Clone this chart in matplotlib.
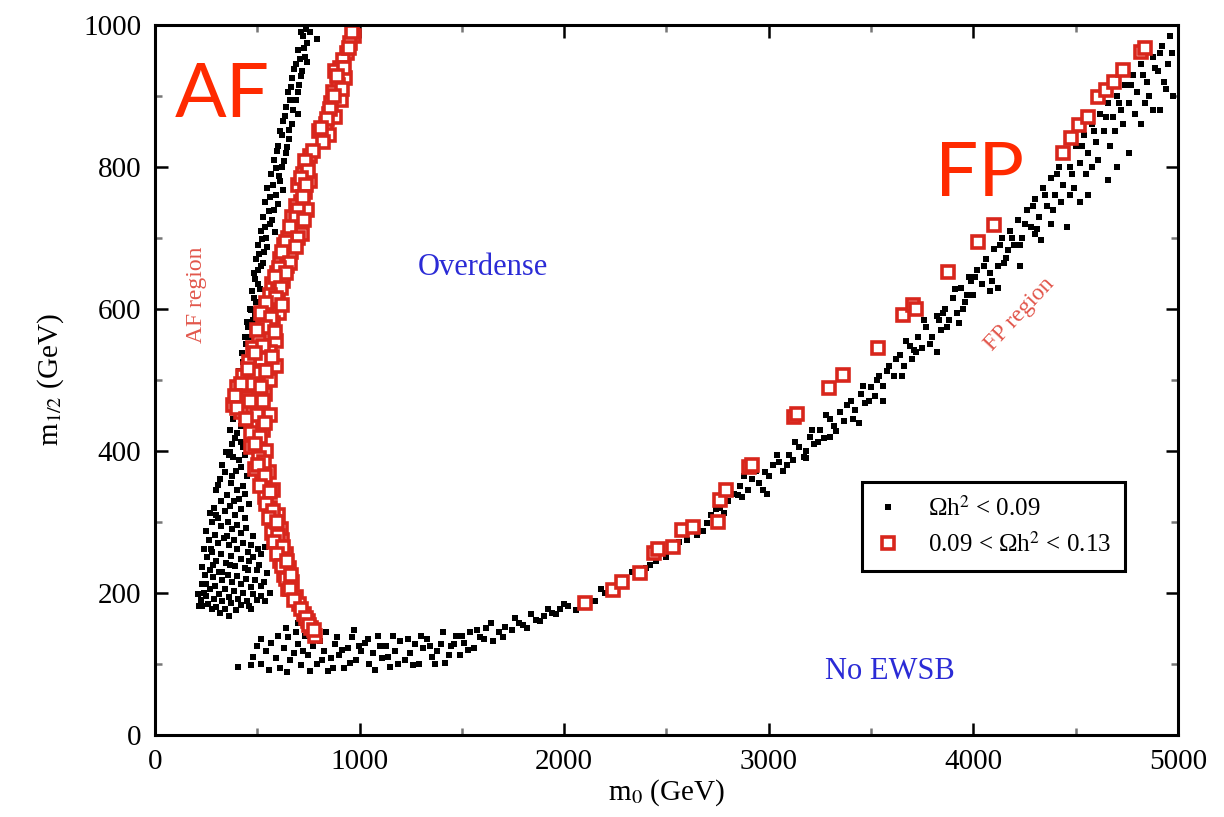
import matplotlib.pyplot as plt
from matplotlib.ticker import MultipleLocator

plt.rcParams["mathtext.fontset"] = "stix"

# scanned points as (m0, m1/2) in GeV
af_black = [
    (740, 995), (725, 985), (745, 975), (700, 965), (735, 955), (690, 945), (720, 935),
    (670, 925), (705, 915), (650, 905), (690, 895), (640, 885), (700, 875), (625, 865),
    (670, 860), (610, 850), (655, 840), (600, 830), (640, 820), (580, 810), (620, 800),
    (565, 790), (610, 780), (550, 770), (590, 760), (540, 750), (580, 740), (530, 730),
    (560, 720), (520, 710), (545, 700), (505, 690), (535, 680), (495, 670), (520, 660),
    (485, 650), (505, 635), (475, 625), (495, 610), (465, 600), (480, 585), (455, 575),
    (470, 560), (445, 550), (460, 535), (430, 525), (450, 510), (415, 500), (440, 490),
    (400, 480), (425, 470), (395, 460), (445, 452), (380, 445), (420, 435), (400, 425),
    (450, 418), (375, 410), (430, 405), (760, 990), (790, 980),
    (715, 990), (730, 968), (708, 952), (745, 948), (680, 938), (712, 928), (665, 912),
    (698, 905), (660, 895), (675, 880), (635, 872), (655, 852), (620, 845), (645, 828),
    (598, 822), (630, 808), (590, 798), (605, 788), (575, 775), (625, 768), (560, 758),
    (600, 748), (555, 738), (570, 725), (540, 715), (585, 708), (525, 698), (550, 688),
    (510, 678), (530, 665), (505, 655), (490, 642), (515, 628), (485, 615), (470, 598),
    (490, 590), (450, 582), (478, 568), (440, 560), (465, 545), (425, 538), (455, 522),
    (410, 512), (435, 498), (390, 492), (415, 478), (380, 470), (405, 458), (430, 440),
    (365, 430), (390, 418), (420, 412), (365, 398), (440, 395),
]

af_low_black = [
    (360, 395), (410, 388), (330, 380), (395, 372), (450, 365), (320, 360), (370, 355),
    (430, 350), (300, 345), (350, 338), (410, 332), (460, 325), (290, 320), (340, 315),
    (390, 310), (440, 305), (280, 300), (325, 295), (375, 290), (420, 285), (480, 280),
    (265, 275), (310, 270), (360, 268), (400, 262), (455, 258), (520, 255), (255, 250),
    (300, 245), (345, 242), (390, 238), (440, 235), (500, 232), (550, 228), (245, 225),
    (285, 222), (330, 218), (375, 215), (420, 212), (470, 208), (240, 200), (270, 205),
    (315, 198), (360, 195), (405, 192), (450, 188), (225, 190), (260, 185), (300, 180),
    (340, 178), (395, 176), (470, 178), (500, 190), (230, 212), (285, 240), (520, 210),
    (480, 250), (350, 280), (300, 310), (560, 200), (215, 182), (540, 265), (330, 230),
    (275, 262), (385, 330),
    (345, 398), (380, 392), (420, 378), (340, 370), (375, 365), (310, 352), (400, 345),
    (440, 340), (325, 330), (365, 322), (420, 318), (270, 312), (310, 305), (355, 300),
    (400, 296), (445, 292), (250, 288), (295, 282), (335, 278), (385, 275), (430, 270),
    (470, 268), (240, 262), (280, 258), (325, 255), (370, 252), (420, 248), (460, 245),
    (510, 240), (230, 236), (270, 232), (315, 230), (355, 226), (400, 224), (445, 220),
    (490, 218), (535, 215), (250, 212), (295, 210), (340, 206), (385, 203), (430, 200),
    (480, 198), (520, 196), (210, 198), (250, 196), (290, 192), (330, 188), (370, 186),
    (420, 183), (460, 182), (540, 188), (280, 178), (320, 172), (360, 168), (230, 182),
    (455, 232), (505, 262), (365, 240),
]

bottom_black = [
    (405, 96), (480, 110), (500, 125), (520, 100), (545, 118), (565, 130), (590, 108),
    (610, 95), (630, 122), (650, 138), (660, 105), (680, 115), (700, 128), (715, 98),
    (735, 140), (750, 112), (770, 125), (790, 100), (805, 132), (825, 118), (845, 90),
    (860, 108), (880, 128), (900, 112), (925, 95), (945, 122), (965, 138), (985, 105),
    (1005, 118), (1025, 130), (1045, 100), (1065, 115), (1090, 140), (1110, 108),
    (1130, 125), (1150, 96), (1175, 118), (1200, 132), (1220, 105), (1245, 115),
    (1270, 128), (1290, 100), (1310, 122), (1330, 135), (1355, 110), (1380, 118),
    (1400, 128), (1420, 102), (1445, 125), (1470, 140), (1490, 112), (1510, 130),
    (1540, 145), (1560, 122), (1590, 138), (1620, 150), (1650, 132), (1680, 145),
    (1710, 152), (1745, 148), (1780, 158), (1820, 150), (1860, 162), (1900, 168),
    (1940, 172), (1980, 178), (2020, 182), (2060, 176), (640, 150), (700, 158),
    (470, 98), (520, 135), (555, 92), (600, 140), (645, 88), (690, 145), (725, 118),
    (760, 90), (780, 135), (815, 105), (835, 145), (870, 95), (890, 138), (915, 120),
    (955, 102), (975, 148), (995, 125), (1040, 135), (1075, 92), (1100, 125), (1140, 110),
    (1165, 140), (1190, 100), (1235, 135), (1260, 98), (1300, 140), (1345, 125),
    (1370, 100), (1410, 145), (1435, 112), (1460, 128), (1500, 140), (1530, 120),
    (1575, 148), (1610, 135), (1640, 158), (1700, 138), (1760, 165), (1800, 155),
    (1840, 170), (1880, 160), (1920, 178), (1960, 170), (2000, 185),
]

fp_black = [
    (2100, 190), (2150, 188), (2200, 200), (2250, 205), (2300, 215), (2350, 222),
    (2400, 235), (2450, 245), (2500, 250), (2550, 262), (2600, 275), (2650, 282),
    (2700, 298), (2720, 310), (2760, 320), (2800, 330), (2830, 340), (2860, 350),
    (2900, 345), (2920, 360), (2950, 355), (2980, 370), (3000, 365), (3020, 380),
    (3050, 385), (3070, 372), (3100, 395), (3120, 388), (3150, 405), (3180, 400),
    (3200, 420), (3220, 410), (3250, 430), (3270, 418), (3300, 445), (3320, 435),
    (3350, 455), (3370, 442), (3400, 470), (3420, 458), (3450, 480), (3470, 468),
    (3500, 490), (3520, 478), (3540, 505), (3560, 492), (3590, 520), (3610, 505),
    (3640, 535), (3660, 520), (3690, 548), (3700, 530), (3730, 560), (3750, 545),
    (3770, 575), (3800, 560), (3820, 590), (3840, 570), (3860, 600), (3880, 585),
    (3900, 615), (3920, 595), (3940, 630), (3960, 610), (3980, 645), (4000, 620),
    (4020, 655), (4040, 635), (4060, 670), (4080, 650), (4100, 685), (4120, 660),
    (4140, 700), (4160, 672), (4180, 710), (4200, 690), (4220, 725), (4240, 700),
    (4260, 740), (4280, 715), (4300, 755), (4320, 730), (4340, 770), (4360, 745),
    (4380, 785), (4400, 760), (4420, 800), (4440, 775), (4460, 815), (4480, 790),
    (4500, 830), (4520, 805), (4540, 845), (4560, 820), (4580, 860), (4600, 835),
    (4620, 875), (4640, 850), (4660, 890), (4680, 870), (4700, 900), (4720, 880),
    (4740, 915), (4760, 890), (4780, 930), (4800, 905), (4820, 945), (4850, 920),
    (4880, 955), (4900, 935), (4920, 970), (4950, 945), (4960, 985), (4940, 910),
    (4880, 880), (4820, 860), (3830, 584), (3950, 600), (4080, 625), (4170, 683),
    (4330, 697), (4460, 716), (4560, 760), (4660, 782), (4760, 820), (4910, 880),
    (4970, 960), (3440, 440), (3560, 470), (3650, 505), (3300, 420), (3180, 390),
    (2990, 340), (2870, 335), (4300, 705), (4520, 750), (4700, 800), (3720, 540),
    (3990, 640),
    (2180, 205), (2330, 230), (2420, 240), (2480, 258), (2560, 272), (2620, 290),
    (2680, 288), (2740, 318), (2780, 312), (2850, 338), (2880, 365), (2940, 372),
    (2970, 345), (3040, 395), (3090, 380), (3130, 412), (3170, 392), (3210, 430),
    (3240, 412), (3280, 450), (3330, 428), (3380, 465), (3410, 445), (3460, 492),
    (3490, 470), (3530, 500), (3580, 512), (3620, 530), (3670, 555), (3710, 542),
    (3760, 585), (3790, 550), (3850, 595), (3870, 575), (3910, 628), (3930, 580),
    (3970, 620), (4010, 645), (4050, 660), (4090, 640), (4130, 690), (4150, 665),
    (4190, 700), (4230, 690), (4250, 720), (4290, 745), (4310, 712), (4350, 760),
    (4390, 740), (4410, 790), (4430, 750), (4470, 800), (4490, 770), (4530, 830),
    (4550, 790), (4590, 850), (4610, 810), (4650, 870), (4670, 830), (4710, 890),
    (4730, 860), (4770, 915), (4790, 875), (4830, 930), (4860, 900), (4890, 940),
    (4910, 960), (4930, 920), (4970, 960), (4975, 900), (4840, 890), (4690, 850),
    (4580, 800), (4470, 760), (4380, 720), (4230, 660), (4120, 630), (3820, 540),
]

af_red = [
    (975, 985), (955, 975), (940, 960), (920, 950), (905, 940), (880, 935), (930, 925),
    (895, 915), (870, 905), (910, 895), (860, 890), (850, 875), (880, 870), (835, 860),
    (800, 850), (850, 845), (820, 835), (760, 815), (745, 800), (725, 790), (760, 780),
    (700, 775), (735, 765), (715, 750), (690, 745), (745, 740), (670, 730), (705, 720),
    (680, 710), (650, 700), (720, 705), (630, 690), (665, 680), (610, 670), (645, 660),
    (595, 650), (625, 640), (570, 635), (600, 625), (580, 610), (555, 600), (605, 595),
    (530, 590), (575, 580), (545, 565), (510, 560), (590, 555), (480, 545), (560, 540),
    (520, 530), (460, 525), (590, 520), (500, 510), (430, 505), (560, 500), (470, 495),
    (400, 490), (540, 480), (450, 475), (380, 465), (510, 460), (420, 455), (560, 450),
    (480, 440), (530, 430), (500, 415), (470, 405), (545, 400), (510, 390), (490, 375),
    (555, 370), (525, 355), (575, 345), (540, 335), (560, 320), (600, 310), (580, 300),
    (615, 290), (570, 285), (620, 275), (600, 265), (640, 255), (610, 245), (655, 235),
    (630, 225), (670, 215), (650, 205), (690, 195), (705, 185), (730, 170), (750, 160),
    (765, 150), (780, 140),
    (965, 990), (948, 968), (925, 940), (890, 928), (915, 910), (875, 900), (855, 882),
    (842, 868), (810, 855), (770, 822), (735, 808), (750, 795), (712, 785), (740, 775),
    (725, 758), (700, 740), (690, 728), (730, 725), (660, 715), (700, 700), (640, 695),
    (690, 688), (620, 680), (660, 665), (605, 658), (640, 650), (585, 645), (615, 630),
    (560, 620), (590, 615), (545, 608), (620, 605), (520, 595), (565, 588), (540, 575),
    (500, 570), (585, 568), (530, 548), (490, 538), (570, 532), (455, 515), (545, 512),
    (420, 495), (520, 490), (390, 478), (465, 470), (530, 470), (400, 460), (500, 450),
    (445, 445), (540, 440), (470, 425), (515, 420), (490, 410), (535, 385), (505, 380),
    (540, 365), (515, 350), (560, 342), (545, 325), (575, 315), (555, 305), (595, 300),
    (600, 280), (580, 272), (625, 265), (595, 255), (620, 238), (645, 245), (640, 220),
    (665, 225), (660, 205), (680, 190), (715, 178), (740, 165), (755, 155), (775, 148),
]

fp_red = [
    (2104, 186), (2240, 204), (2284, 215), (2373, 228), (2437, 256), (2460, 262),
    (2534, 265), (2578, 289), (2632, 293), (2750, 300), (2764, 331), (2789, 345),
    (2901, 377), (2920, 380), (3121, 448), (3140, 452), (3293, 489), (3361, 507),
    (3532, 545), (3654, 592), (3703, 606), (3720, 600), (3875, 652), (4021, 694),
    (4100, 718), (4437, 820), (4476, 841), (4515, 859), (4560, 870), (4608, 899),
    (4648, 908), (4687, 920), (4731, 937), (4819, 962), (4840, 968),
]

black_m0, black_m12 = zip(*(af_black + af_low_black + bottom_black + fp_black))
red_m0, red_m12 = zip(*(af_red + fp_red))

SERIF = "Liberation Serif"
RED = "#d8261c"

fig = plt.figure(figsize=(12.24, 8.17), dpi=100)
ax = fig.add_axes([0.1266, 0.1004, 0.8358, 0.869])

ax.plot(black_m0, black_m12, "s", color="black", markersize=3.9, mew=0,
        label="Ωh$^2$ < 0.09")
ax.plot(red_m0, red_m12, "s", markersize=8, markerfacecolor="white",
        markeredgecolor=RED, mew=2.6, label="0.09 < Ωh$^2$ < 0.13")

ax.set_xlim(0, 5000)
ax.set_ylim(0, 1000)
ax.xaxis.set_major_locator(MultipleLocator(1000))
ax.xaxis.set_minor_locator(MultipleLocator(500))
ax.yaxis.set_major_locator(MultipleLocator(200))
ax.yaxis.set_minor_locator(MultipleLocator(100))
ax.tick_params(which="both", direction="in", top=True, right=True, width=1.8)
ax.tick_params(which="major", length=9, labelsize=21, pad=10)
ax.tick_params(which="minor", length=5, color="#777777")
for lab in ax.get_xticklabels() + ax.get_yticklabels():
    lab.set_family(SERIF)
for sp in ax.spines.values():
    sp.set_linewidth(2.2)

ax.set_xlabel(r"m$_0$ (GeV)", family=SERIF, fontsize=21, labelpad=2)
ax.set_ylabel(r"m$_{1/2}$ (GeV)", family=SERIF, fontsize=21, labelpad=12)

# region labels
ax.text(1603, 658, "Overdense", color="#2b2bd6", family=SERIF, fontsize=22,
        ha="center", va="center")
ax.text(3592, 89, "No EWSB", color="#2b2bd6", family=SERIF, fontsize=22,
        ha="center", va="center")
ax.text(205, 620, "AF region", color="#e2574c", family=SERIF, fontsize=17,
        rotation=90, ha="center", va="center")
ax.text(4228, 592, "FP region", color="#e2574c", family=SERIF, fontsize=17,
        rotation=47, ha="center", va="center")
ax.text(327, 901, "AF", color="#ff2a00", family="Lato", fontsize=55,
        ha="center", va="center")
ax.text(4032, 789, "FP", color="#ff2a00", family="Lato", fontsize=55,
        ha="center", va="center")

leg = ax.legend(loc="upper left", bbox_to_anchor=(0.691, 0.356), frameon=True,
                fancybox=False, framealpha=1, edgecolor="black",
                prop={"family": SERIF, "size": 18}, handlelength=1.0,
                borderpad=0.55, labelspacing=0.45, handletextpad=1.1,
                borderaxespad=0)
leg.get_frame().set_linewidth(2.2)

fig.savefig("out.png", dpi=100)
